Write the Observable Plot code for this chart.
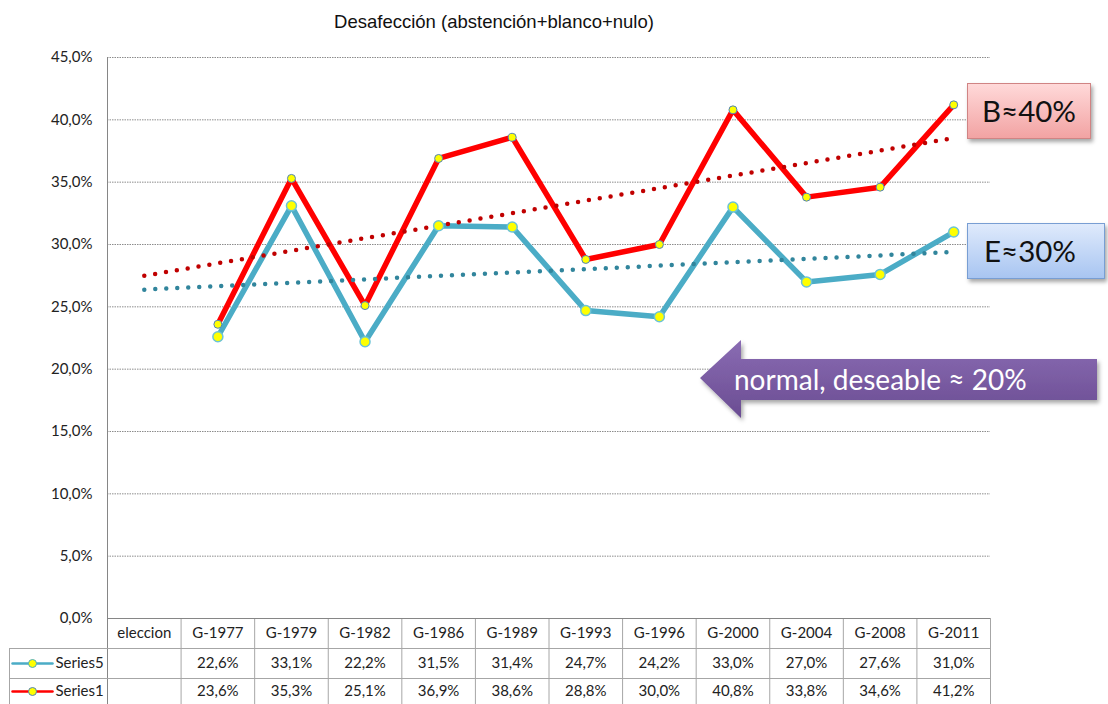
<!DOCTYPE html>
<html>
<head>
<meta charset="utf-8">
<script src="https://cdn.jsdelivr.net/npm/d3@7"></script>
<script src="https://cdn.jsdelivr.net/npm/@observablehq/plot@0.6"></script>
<style>
  body { margin: 0; background: #fff; }
  #wrap { position: relative; width: 1108px; height: 704px; overflow: hidden; }
  #title { position: absolute; left: 0; top: 11px; width: 988px; text-align: center;
           font: 18.5px "Liberation Sans", Arial, sans-serif; color: #111; line-height: 22px; }
  #chart { position: absolute; left: 0; top: 0; }
  .box { position: absolute; font-family: Lato, "Open Sans", sans-serif; font-size: 29.5px;
         color: #111; line-height: 54px; box-shadow: 2px 3px 4px rgba(0,0,0,0.35); }
  #boxB { left: 967px; top: 83px; width: 122px; height: 54px; text-align: center;
          background: linear-gradient(#ffd9d9, #f2a3a3); border: 1px solid #d08484; }
  #boxE { left: 967px; top: 223px; width: 136px; height: 54px; text-indent: 16px;
          background: linear-gradient(#dfeafc, #a8c5f1); border: 1px solid #789ed3; }
  #arrow { position: absolute; left: 0; top: 0; }
</style>
</head>
<body>
<div id="wrap">
  <div id="title">Desafección (abstención+blanco+nulo)</div>
  <div id="chart"></div>
  <div class="box" id="boxB">B≈40%</div>
  <div class="box" id="boxE">E≈30%</div>
  <svg id="arrow" width="1108" height="704">
    <defs>
      <linearGradient id="pg" x1="0" y1="0" x2="0" y2="1">
        <stop offset="0" stop-color="#8a6cb3"/>
        <stop offset="1" stop-color="#6a4c92"/>
      </linearGradient>
      <filter id="sh" x="-10%" y="-20%" width="120%" height="150%">
        <feDropShadow dx="2" dy="3" stdDeviation="2" flood-opacity="0.35"/>
      </filter>
    </defs>
    <polygon points="700,378 741,340 741,359 1097,359 1097,400 741,400 741,418" fill="url(#pg)" filter="url(#sh)"/>
    <text x="734" y="390" fill="#fff" font-family="Lato, 'Open Sans', sans-serif" font-size="28">normal, deseable ≈ 20%</text>
  </svg>
</div>
<script>
const categories = ["eleccion", "G-1977", "G-1979", "G-1982", "G-1986", "G-1989", "G-1993", "G-1996", "G-2000", "G-2004", "G-2008", "G-2011"];
const series5 = [null, 22.6, 33.1, 22.2, 31.5, 31.4, 24.7, 24.2, 33.0, 27.0, 27.6, 31.0];
const series1 = [null, 23.6, 35.3, 25.1, 36.9, 38.6, 28.8, 30.0, 40.8, 33.8, 34.6, 41.2];
const seriesNames = ["Series5", "Series1"];
const yTicks = [0, 5, 10, 15, 20, 25, 30, 35, 40, 45];

const W = 1108, H = 704, mT = 57, mB = 86, mL = 107, mR = 118;
const yPerPx = 45 / (H - mT - mB);
const xPerPx = 12 / (W - mL - mR);
const offY = p => -p * yPerPx;          // p pixels below the zero line
const offX = p => (p - mL) * xPerPx;     // absolute pixel x to data x

const fmt = v => v == null ? "" : v.toFixed(1).replace(".", ",") + "%";

function pts(vals) {
  return vals.map((v, i) => ({x: i + 0.5, y: v})).filter(d => d.y != null);
}
function trend(vals) {
  const p = vals.map((v, i) => ({i: i + 1, v})).filter(d => d.v != null);
  const mx = d3.mean(p, d => d.i), my = d3.mean(p, d => d.v);
  const b = d3.sum(p, d => (d.i - mx) * (d.v - my)) / d3.sum(p, d => (d.i - mx) ** 2);
  const a = my - b * mx;
  return [1, vals.length].map(i => ({x: i - 0.5, y: a + b * i}));
}

const s5 = pts(series5), s1 = pts(series1);
const t5 = trend(series5), t1 = trend(series1);

const headerRow = categories.map((c, i) => ({x: i + 0.5, t: c}));
const row5 = series5.map((v, i) => ({x: i + 0.5, t: fmt(v)}));
const row1 = series1.map((v, i) => ({x: i + 0.5, t: fmt(v)}));
const bounds = d3.range(1, categories.length + 1);

const legendX1 = offX(12), legendX2 = offX(52), legendMid = offX(32), legendText = offX(55), legendLeft = offX(9);
const rowMid = [offY(15), offY(45), offY(73)];
const lineCol = "#a6a6a6";
const FS = 15;

const chart = Plot.plot({
  width: W, height: H,
  marginTop: mT, marginBottom: mB, marginLeft: mL, marginRight: mR,
  x: {domain: [0, 12], axis: null},
  y: {domain: [0, 45], axis: null},
  style: {fontFamily: "Lato, 'Open Sans', sans-serif", fontSize: FS + "px", color: "#222"},
  marks: [
    // grid
    Plot.ruleY(yTicks.filter(d => d > 0), {x1: 0, x2: 12, stroke: "#8c8c8c", strokeWidth: 1, strokeDasharray: "1.5,1"}),
    // y axis labels
    Plot.axisY({ticks: yTicks, tickFormat: fmt, tickSize: 0, tickPadding: 15, fontSize: FS, fill: "#222", label: null}),
    // table lines
    Plot.ruleX([0], {y1: 45, y2: offY(90), stroke: "#868686"}),
    Plot.ruleX(bounds, {y1: 0, y2: offY(90), stroke: lineCol}),
    Plot.ruleY([0], {x1: 0, x2: 12, stroke: "#868686"}),
    Plot.ruleY([offY(30), offY(60)], {x1: legendLeft, x2: 12, stroke: lineCol}),
    Plot.ruleX([legendLeft], {y1: offY(30), y2: offY(90), stroke: lineCol}),
    // table texts
    Plot.text(headerRow, {x: "x", y: rowMid[0], text: "t", fontSize: FS}),
    Plot.text(row5, {x: "x", y: rowMid[1], text: "t", fontSize: FS}),
    Plot.text(row1, {x: "x", y: rowMid[2], text: "t", fontSize: FS}),
    // legend swatches
    Plot.line([{x: legendX1, y: rowMid[1]}, {x: legendX2, y: rowMid[1]}], {x: "x", y: "y", stroke: "#4bacc6", strokeWidth: 2.5}),
    Plot.dot([{x: legendMid, y: rowMid[1]}], {x: "x", y: "y", r: 4, fill: "#ffff00", stroke: "#4bacc6", strokeWidth: 1}),
    Plot.line([{x: legendX1, y: rowMid[2]}, {x: legendX2, y: rowMid[2]}], {x: "x", y: "y", stroke: "#ff0000", strokeWidth: 2.5}),
    Plot.dot([{x: legendMid, y: rowMid[2]}], {x: "x", y: "y", r: 4, fill: "#ffff00", stroke: "#4f81bd", strokeWidth: 1}),
    Plot.text([seriesNames[0]], {x: legendText, y: rowMid[1], text: d => d, textAnchor: "start", fontSize: FS}),
    Plot.text([seriesNames[1]], {x: legendText, y: rowMid[2], text: d => d, textAnchor: "start", fontSize: FS}),
    // series lines
    Plot.line(s5, {x: "x", y: "y", stroke: "#4bacc6", strokeWidth: 5.5, strokeLinejoin: "round", curve: "linear"}),
    Plot.line(s1, {x: "x", y: "y", stroke: "#ff0000", strokeWidth: 5.5, strokeLinejoin: "round", curve: "linear"}),
    // trendlines
    Plot.line(t5, {x: "x", y: "y", stroke: "#31859c", strokeWidth: 4.5, strokeDasharray: "0,11", strokeLinecap: "round"}),
    Plot.line(t1, {x: "x", y: "y", stroke: "#c00000", strokeWidth: 4.5, strokeDasharray: "0,11", strokeLinecap: "round"}),
    // markers
    Plot.dot(s5, {x: "x", y: "y", r: 5, fill: "#ffff00", stroke: "#6cc3d6", strokeWidth: 1.5}),
    Plot.dot(s1, {x: "x", y: "y", r: 4, fill: "#ffff00", stroke: "#4f81bd", strokeWidth: 1})
  ]
});
document.getElementById("chart").appendChild(chart);
</script>
</body>
</html>
